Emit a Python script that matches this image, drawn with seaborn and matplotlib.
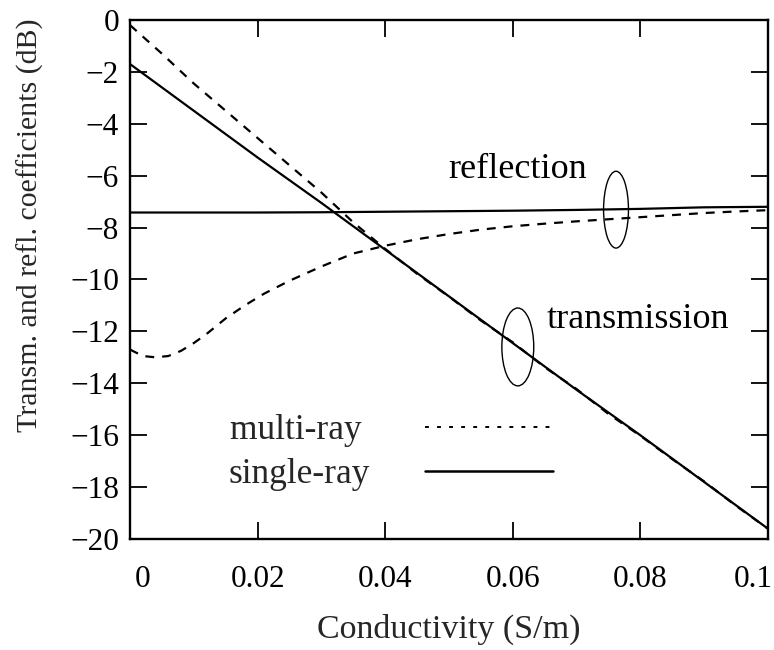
import matplotlib
matplotlib.use("Agg")
import matplotlib.pyplot as plt
from matplotlib.patches import Ellipse
from matplotlib.lines import Line2D
import matplotlib.transforms as mtransforms
import seaborn as sns
import numpy as np

# ---------------- data ----------------
x_trans_single = [0.0, 0.01, 0.02, 0.03, 0.04, 0.05, 0.06, 0.07, 0.08, 0.09, 0.10]
y_trans_single = [-1.7, -3.5, -5.3, -7.05, -8.85, -10.65, -12.45, -14.25, -16.0, -17.8, -19.6]

x_trans_multi = [0.0, 0.005, 0.01, 0.015, 0.02, 0.025, 0.03, 0.035, 0.04, 0.045,
                 0.05, 0.055, 0.06, 0.065, 0.07, 0.075, 0.08, 0.085, 0.09, 0.095, 0.10]
y_trans_multi = [-0.2, -1.3, -2.45, -3.5, -4.55, -5.6, -6.65, -7.8, -8.82, -9.78,
                 -10.66, -11.58, -12.42, -13.38, -14.22, -15.18, -16.02, -16.92, -17.78, -18.72, -19.6]

x_refl_single = [0.0, 0.01, 0.02, 0.03, 0.04, 0.05, 0.06, 0.07, 0.08, 0.09, 0.10]
y_refl_single = [-7.42, -7.42, -7.42, -7.41, -7.39, -7.37, -7.35, -7.32, -7.28, -7.22, -7.2]

x_refl_multi = [0.0, 0.002, 0.004, 0.006, 0.008, 0.010, 0.012, 0.015, 0.018, 0.021, 0.025,
                0.03, 0.035, 0.04, 0.045, 0.05, 0.055, 0.06, 0.065, 0.07, 0.075, 0.08,
                0.085, 0.09, 0.095, 0.10]
y_refl_multi = [-12.7, -12.95, -13.0, -12.95, -12.75, -12.45, -12.1, -11.5, -11.0, -10.55, -10.05,
                -9.5, -9.0, -8.7, -8.45, -8.25, -8.08, -7.95, -7.85, -7.76, -7.68, -7.6,
                -7.52, -7.44, -7.38, -7.33]

x_ticks = [0, 0.02, 0.04, 0.06, 0.08, 0.1]
x_tick_labels = ["0", "0.02", "0.04", "0.06", "0.08", "0.1"]
y_ticks = [-20, -18, -16, -14, -12, -10, -8, -6, -4, -2, 0]
y_tick_labels = ["\u221220", "\u221218", "\u221216", "\u221214", "\u221212", "\u221210",
                 "\u22128", "\u22126", "\u22124", "\u22122", "0"]

legend_labels = ["multi-ray", "single-ray"]

# annotations: (text, x, y)
notes = [("reflection", 0.0607, -5.77), ("transmission", 0.0796, -11.54)]
# ellipses: (cx, cy, width, height)
ellipses = [(0.0762, -7.31, 0.0039, 2.96), (0.0608, -12.6, 0.0050, 3.0)]

# ---------------- style ----------------
sns.set_style("ticks")
plt.rcParams["font.family"] = ["Liberation Serif", "DejaVu Serif"]
plt.rcParams["axes.unicode_minus"] = True

fig = plt.figure(figsize=(7.74, 6.5), dpi=100)
ax = fig.add_axes([0.168, 0.1708, 0.824, 0.7985])

lw = 1.6
dash = (4.0, 3.6)
sns.lineplot(x=x_refl_single, y=y_refl_single, ax=ax, color="black", lw=lw,
             estimator=None, sort=False)
sns.lineplot(x=x_trans_single, y=y_trans_single, ax=ax, color="black", lw=lw,
             estimator=None, sort=False)
sns.lineplot(x=x_refl_multi, y=y_refl_multi, ax=ax, color="black", lw=lw,
             estimator=None, sort=False)
ax.lines[-1].set_dashes(dash)
sns.lineplot(x=x_trans_multi, y=y_trans_multi, ax=ax, color="black", lw=lw,
             estimator=None, sort=False)
ax.lines[-1].set_dashes(dash)

for (cx, cy, w, h) in ellipses:
    ax.add_patch(Ellipse((cx, cy), width=w, height=h, fill=False, ec="black", lw=1.0))

for (t, tx, ty) in notes:
    ax.text(tx, ty, t, fontsize=26, ha="center", va="center", color="black")

ax.set_xlim(0, 0.1)
ax.set_ylim(-20, 0)
ax.set_xticks(x_ticks)
ax.set_xticklabels(x_tick_labels)
ax.set_yticks(y_ticks)
ax.set_yticklabels(y_tick_labels)

ax.tick_params(axis="both", direction="in", length=12, width=1.3, labelsize=22.5,
               top=True, right=True, colors="black")
ax.tick_params(axis="x", pad=19)
ax.tick_params(axis="y", pad=8)

for s in ax.spines.values():
    s.set_linewidth(1.7)
    s.set_color("black")

# nudge edge tick labels inward like the reference
xl = ax.get_xticklabels()
xl[0].set_transform(xl[0].get_transform() + mtransforms.ScaledTranslation(13 / 100, 0, fig.dpi_scale_trans))
xl[-1].set_transform(xl[-1].get_transform() + mtransforms.ScaledTranslation(-15 / 100, 0, fig.dpi_scale_trans))

ax.set_xlabel("Conductivity (S/m)", fontsize=24.5, labelpad=14)
ax.set_ylabel("Transm. and refl. coefficients (dB)", fontsize=21.5)
ax.yaxis.set_label_coords(-0.135, 0.605)

handles = [Line2D([], [], color="black", lw=1.4, dashes=(2.0, 4.2)),
           Line2D([], [], color="black", lw=1.8)]
leg = ax.legend(handles, [legend_labels[0] + " ", legend_labels[1]], loc="upper left",
                bbox_to_anchor=(0.155, 0.24), frameon=False, fontsize=25.5,
                markerfirst=False, handlelength=3.6, handletextpad=1.55,
                labelspacing=0.3, borderpad=0, borderaxespad=0)

fig.savefig("out.png", dpi=100, facecolor="white")
